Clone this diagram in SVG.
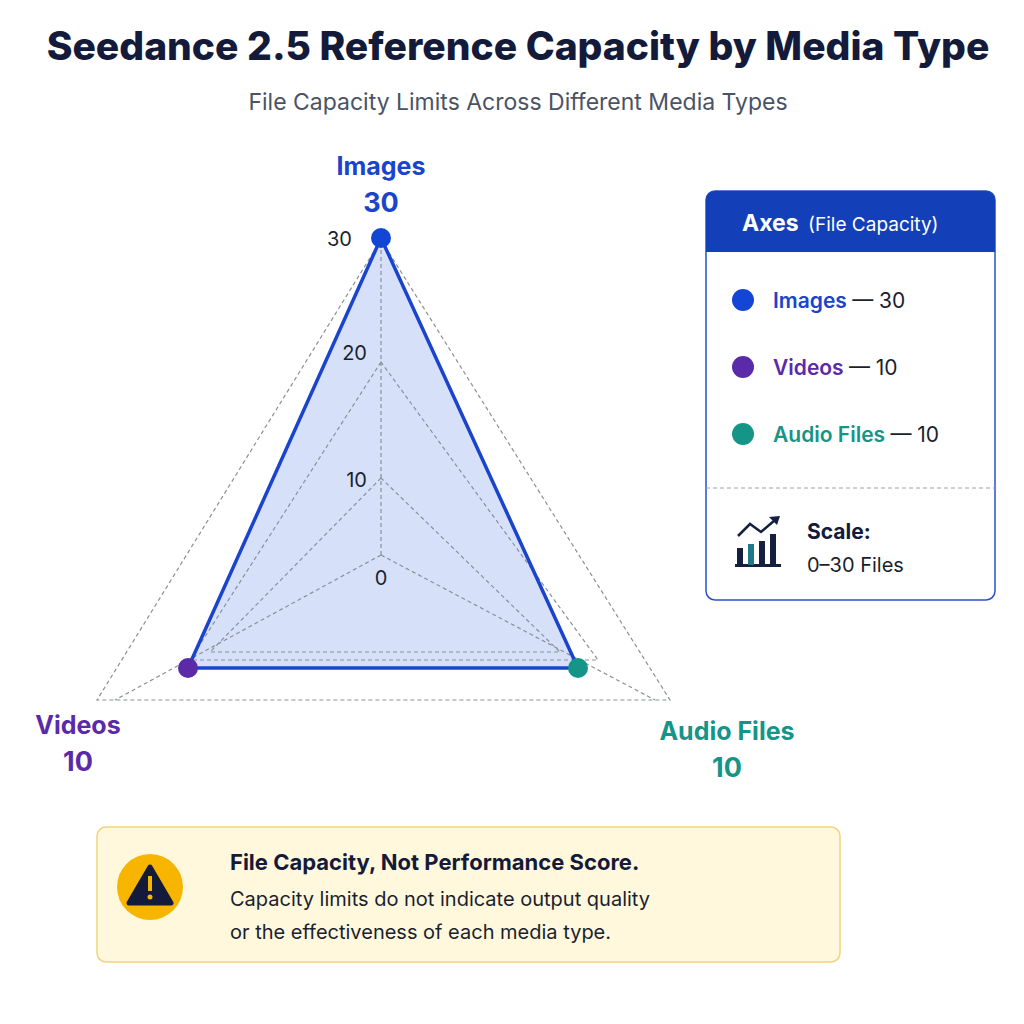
<svg xmlns="http://www.w3.org/2000/svg" width="1024" height="1024" viewBox="0 0 1024 1024">
<style>
text{font-family:Inter,"Liberation Sans",sans-serif}
.grid{fill:none;stroke:#8a909a;stroke-width:1.2;stroke-dasharray:4 3}
.tick{font-size:20px;fill:#1a1f2e}
.leg{font-size:21px;font-weight:600}
.legv{font-size:21px;fill:#1a1f2e}
</style>
<rect width="1024" height="1024" fill="#fff"/>
<text x="518" y="60" text-anchor="middle" font-size="39" font-weight="800" fill="#141a3a">Seedance 2.5 Reference Capacity by Media Type</text>
<text x="518" y="110" text-anchor="middle" font-size="23" fill="#4a5366">File Capacity Limits Across Different Media Types</text>
<g id="chart">
<polygon points="381,238 188,668 578,668" fill="#c9d5f7" fill-opacity="0.75"/>
<polygon class="grid" points="381,240 97,700 670,700"/>
<polygon class="grid" points="381,362 190,660 598,660"/>
<polygon class="grid" points="381,478 210,652 560,652"/>
<polyline class="grid" points="381,555 381,240"/>
<polyline class="grid" points="381,555 115,700"/>
<polyline class="grid" points="381,555 655,700"/>
<polygon points="381,238 188,668 578,668" fill="none" stroke="#1a44cc" stroke-width="3.5" stroke-linejoin="round"/>
<text class="tick" x="352" y="246" text-anchor="end">30</text>
<text class="tick" x="367" y="360" text-anchor="end">20</text>
<text class="tick" x="367" y="487" text-anchor="end">10</text>
<text class="tick" x="381" y="585" text-anchor="middle">0</text>
</g>
<g id="node-images"><circle cx="381" cy="238" r="10" fill="#1446d6"/>
<text x="381" y="175" text-anchor="middle" font-size="25" font-weight="700" fill="#1a44cc">Images</text>
<text x="381" y="212" text-anchor="middle" font-size="27" font-weight="700" fill="#1a44cc">30</text></g>
<g id="node-videos"><circle cx="188" cy="668" r="10" fill="#5b2aa8"/>
<text x="78" y="734" text-anchor="middle" font-size="25" font-weight="700" fill="#5b2aa8">Videos</text>
<text x="78" y="771" text-anchor="middle" font-size="27" font-weight="700" fill="#5b2aa8">10</text></g>
<g id="node-audio"><circle cx="578" cy="668" r="10" fill="#159488"/>
<text x="727" y="740" text-anchor="middle" font-size="25" font-weight="700" fill="#159488">Audio Files</text>
<text x="727" y="777" text-anchor="middle" font-size="27" font-weight="700" fill="#159488">10</text></g>
<g id="legend">
<rect x="706" y="191" width="289" height="409" rx="9" fill="#fff" stroke="#2c50c8" stroke-width="1.5"/>
<path d="M715,191 H986 A9,9 0 0 1 995,200 V252 H706 V200 A9,9 0 0 1 715,191 Z" fill="#1340b8"/>
<text x="742" y="231" font-size="23" font-weight="700" fill="#fff">Axes <tspan font-size="19" font-weight="400" dx="4">(File Capacity)</tspan></text>
<circle cx="743" cy="300" r="11" fill="#1446d6"/>
<text x="773" y="308" class="leg" fill="#1a44cc">Images <tspan class="legv" font-weight="400">— 30</tspan></text>
<circle cx="743" cy="367" r="11" fill="#5b2aa8"/>
<text x="773" y="375" class="leg" fill="#5b2aa8">Videos <tspan class="legv" font-weight="400">— 10</tspan></text>
<circle cx="743" cy="434" r="11" fill="#159488"/>
<text x="773" y="442" class="leg" fill="#159488">Audio Files <tspan class="legv" font-weight="400">— 10</tspan></text>
<line x1="706" y1="488" x2="995" y2="488" stroke="#9aa0a8" stroke-dasharray="4 3"/>
<g fill="#152040">
<rect x="735" y="564" width="46" height="3"/>
<rect x="737" y="548" width="6" height="17"/>
<rect x="748" y="544" width="6" height="21" fill="#1e7a8a"/>
<rect x="759" y="541" width="6" height="24"/>
<rect x="770" y="534" width="6" height="31"/>
</g>
<polyline points="738,536 750,524 761,532 775,520" fill="none" stroke="#152040" stroke-width="2.5"/>
<polygon points="780,516 769,517 777,525" fill="#152040"/>
<text x="807" y="539" font-size="21" font-weight="700" fill="#141a3a">Scale:</text>
<text x="807" y="572" font-size="20" fill="#1a1f2e">0–30 Files</text>
</g>
<g id="note">
<rect x="97" y="827" width="743" height="135" rx="9" fill="#fff8dc" stroke="#f2d37a" stroke-width="1.5"/>
<circle cx="150" cy="887" r="33" fill="#f7b500"/>
<path d="M150,867 L171,903 H129 Z" fill="#141a3a" stroke="#141a3a" stroke-width="5" stroke-linejoin="round"/>
<rect x="148" y="876" width="4" height="15" fill="#f7b500"/>
<circle cx="150" cy="897" r="2.5" fill="#f7b500"/>
<text x="230" y="870" font-size="22" font-weight="700" fill="#141a3a">File Capacity, Not Performance Score.</text>
<text x="230" y="906" font-size="20" fill="#1a1f2e">Capacity limits do not indicate output quality</text>
<text x="230" y="939" font-size="20" fill="#1a1f2e">or the effectiveness of each media type.</text>
</g>
</svg>
